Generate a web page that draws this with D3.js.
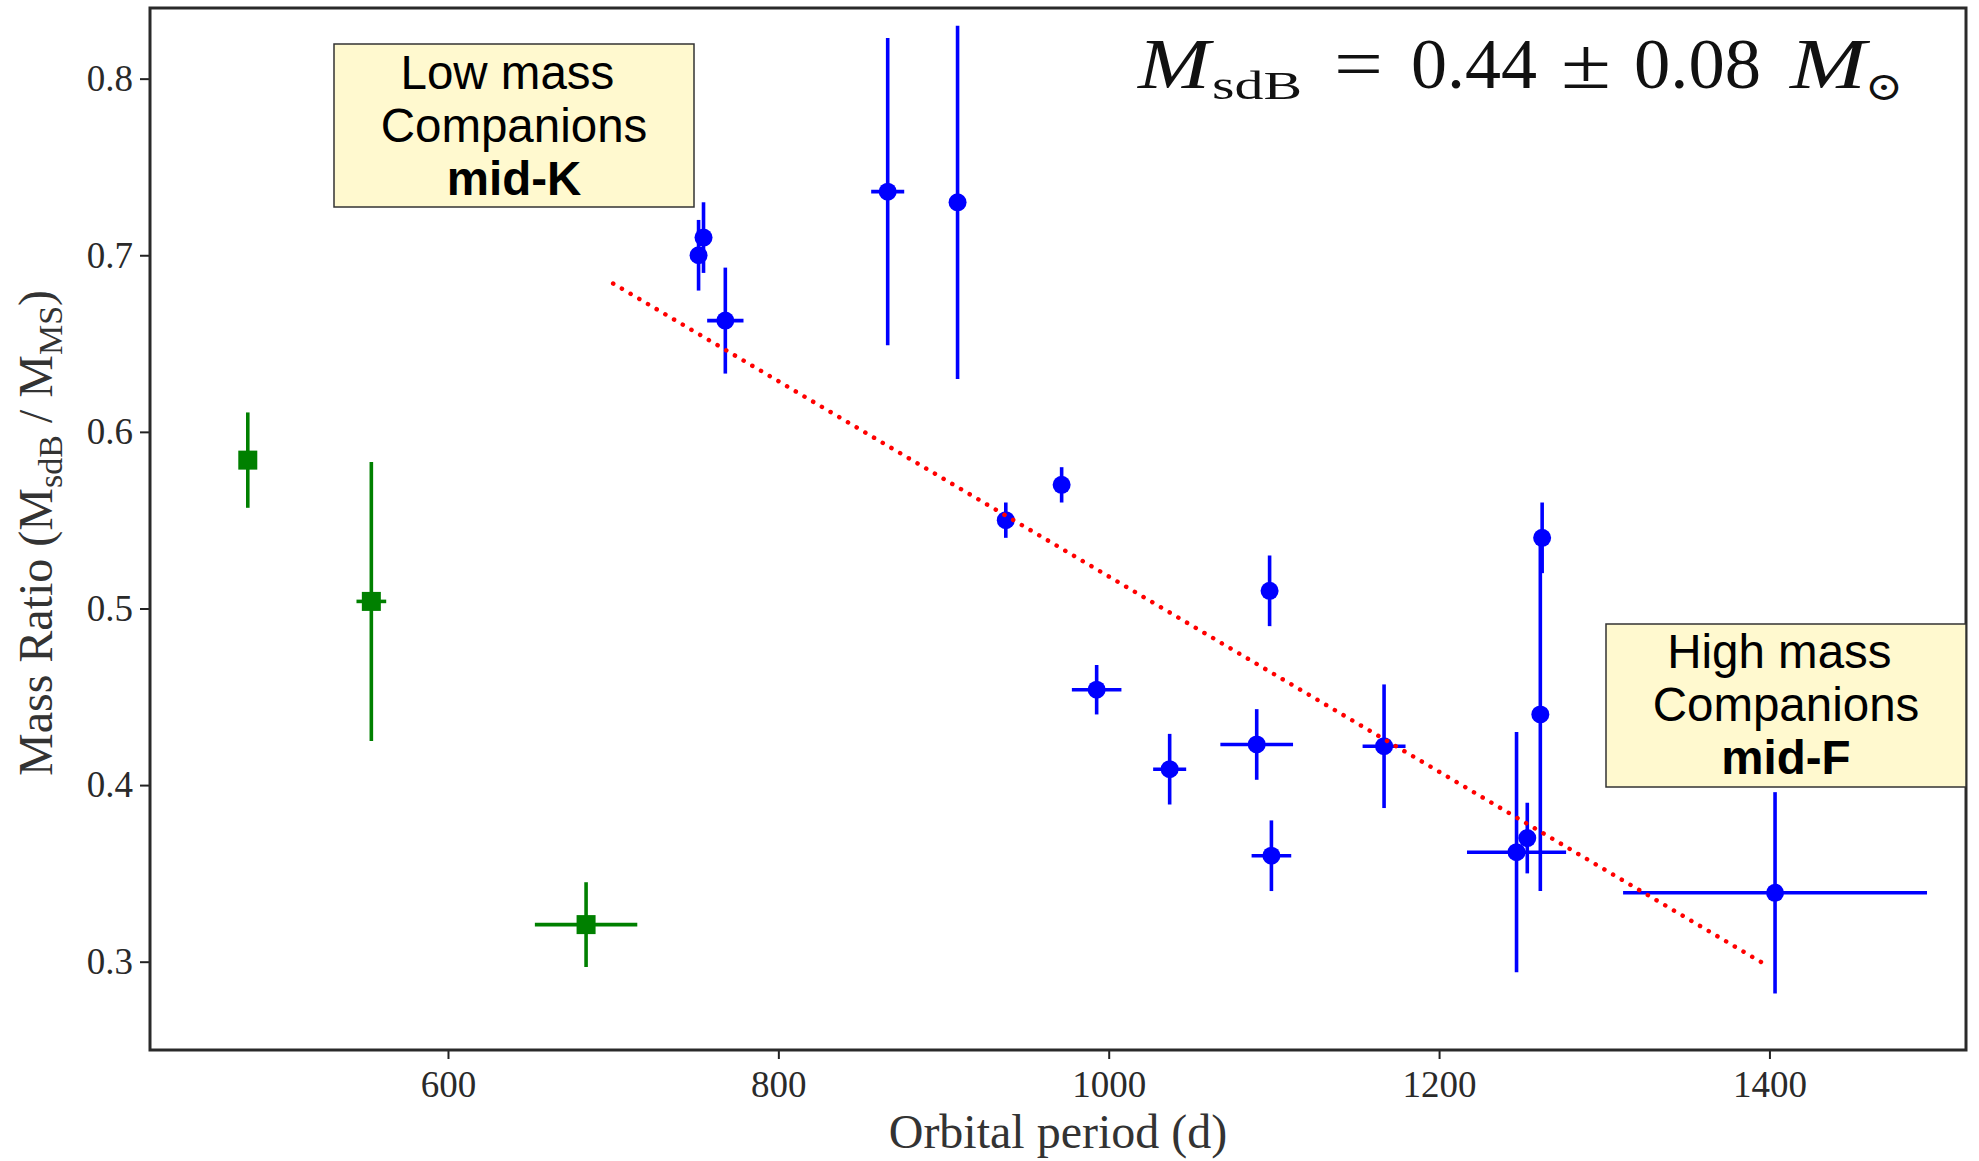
<!DOCTYPE html>
<html>
<head>
<meta charset="utf-8">
<script src="https://cdn.jsdelivr.net/npm/d3@7"></script>
<style>
    body { margin: 0; background: #fff; }
    svg { display: block; }
    text { font-family: "Liberation Serif", "DejaVu Serif", serif; fill: #2a2a2a; }
    .box-text { font-family: "Liberation Sans", Arial, sans-serif; fill: #000; white-space: pre; }
</style>
</head>
<body>
<div id="chart"></div>
<script>
// sdB + MS companions (blue circles)
const bluePeriod    = [751.7, 754.7, 767.9, 866.2, 908.5, 937.7, 971.5, 992.7, 1036.9, 1089.6, 1097.4, 1098.5, 1166.7, 1246.9, 1253.4, 1261.3, 1262.4, 1403.4];
const bluePeriodErr = [0, 0, 11, 10, 0, 0, 0, 15, 10, 22, 0, 12, 13, 30, 0, 0, 0, 92];
const blueRatio     = [0.700, 0.710, 0.663, 0.736, 0.730, 0.550, 0.570, 0.454, 0.409, 0.423, 0.510, 0.360, 0.422, 0.362, 0.370, 0.440, 0.540, 0.339];
const blueRatioErr  = [0.020, 0.020, 0.030, 0.087, 0.100, 0.010, 0.010, 0.014, 0.020, 0.020, 0.020, 0.020, 0.035, 0.068, 0.020, 0.100, 0.020, 0.057];

// green squares
const greenPeriod    = [478.8, 553.6, 683.6];
const greenPeriodErr = [0, 9, 31];
const greenRatio     = [0.584, 0.504, 0.321];
const greenRatioErr  = [0.027, 0.079, 0.024];

// dotted trend line end points
const fitPeriod = [700, 1400];
const fitRatio  = [0.684, 0.297];

const xTicks = [600, 800, 1000, 1200, 1400];
const yTicks = [0.3, 0.4, 0.5, 0.6, 0.7, 0.8];

const lowBoxLines  = ['Low mass ', 'Companions', 'mid-K'];
const highBoxLines = ['High mass ', 'Companions', 'mid-F'];

const margin = { top: 8, right: 13, bottom: 111, left: 150 };
const width = 1979 - margin.left - margin.right;
const height = 1161 - margin.top - margin.bottom;

const root = d3.select('#chart')
    .append('svg')
    .attr('width', 1979)
    .attr('height', 1161);

const svg = root.append('g')
    .attr('transform', `translate(${margin.left}, ${margin.top})`);

const xScale = d3.scaleLinear()
    .domain([419.6, 1519])
    .range([0, width]);

const yScale = d3.scaleLinear()
    .domain([0.25, 0.84])
    .range([height, 0]);

// axes
const xAxis = svg.append('g')
    .attr('transform', `translate(0, ${height})`)
    .call(d3.axisBottom(xScale).tickValues(xTicks).tickSize(9).tickPadding(12).tickFormat(d3.format('d')));

const yAxis = svg.append('g')
    .call(d3.axisLeft(yScale).tickValues(yTicks).tickSize(10).tickPadding(7).tickFormat(d3.format('.1f')));

[xAxis, yAxis].forEach(ax => {
    ax.select('.domain').remove();
    ax.selectAll('.tick line').attr('stroke', '#222').attr('stroke-width', 2);
    ax.selectAll('.tick text')
        .style('font-family', '"Liberation Serif", "DejaVu Serif", serif')
        .style('font-size', '37px')
        .attr('fill', '#333');
});

svg.append('rect')
    .attr('width', width)
    .attr('height', height)
    .attr('fill', 'none')
    .attr('stroke', '#2a2a2a')
    .attr('stroke-width', 3);

// axis labels
svg.append('text')
    .attr('x', width / 2)
    .attr('y', height + 98)
    .attr('text-anchor', 'middle')
    .style('font-size', '48px')
    .style('fill', '#333')
    .text('Orbital period (d)');

const yLabel = root.append('text')
    .attr('transform', 'translate(52, 533) rotate(-90)')
    .attr('text-anchor', 'middle')
    .style('font-size', '48px')
    .style('fill', '#333');
yLabel.append('tspan').text('Mass Ratio (M');
yLabel.append('tspan').attr('dy', 10).style('font-size', '34px').text('sdB');
yLabel.append('tspan').attr('dy', -10).text(' / M');
yLabel.append('tspan').attr('dy', 10).style('font-size', '34px').text('MS');
yLabel.append('tspan').attr('dy', -10).text(')');

// error bars + markers
function drawSeries(period, periodErr, ratio, ratioErr, color, shape) {
    const data = period.map((p, i) => ({ p, pe: periodErr[i], r: ratio[i], re: ratioErr[i] }));
    const g = svg.append('g');

    g.selectAll('.vbar')
        .data(data)
        .enter().append('line')
        .attr('x1', d => xScale(d.p))
        .attr('x2', d => xScale(d.p))
        .attr('y1', d => yScale(d.r - d.re))
        .attr('y2', d => yScale(d.r + d.re))
        .attr('stroke', color)
        .attr('stroke-width', 3.6);

    g.selectAll('.hbar')
        .data(data.filter(d => d.pe > 0))
        .enter().append('line')
        .attr('x1', d => xScale(d.p - d.pe))
        .attr('x2', d => xScale(d.p + d.pe))
        .attr('y1', d => yScale(d.r))
        .attr('y2', d => yScale(d.r))
        .attr('stroke', color)
        .attr('stroke-width', 3.6);

    if (shape === 'square') {
        g.selectAll('.mark')
            .data(data)
            .enter().append('rect')
            .attr('x', d => xScale(d.p) - 9.5)
            .attr('y', d => yScale(d.r) - 9.5)
            .attr('width', 19)
            .attr('height', 19)
            .attr('fill', color);
    } else {
        g.selectAll('.mark')
            .data(data)
            .enter().append('circle')
            .attr('cx', d => xScale(d.p))
            .attr('cy', d => yScale(d.r))
            .attr('r', 9)
            .attr('fill', color);
    }
}

drawSeries(greenPeriod, greenPeriodErr, greenRatio, greenRatioErr, '#008000', 'square');
drawSeries(bluePeriod, bluePeriodErr, blueRatio, blueRatioErr, '#0000ff', 'circle');

// dotted trend
const line = d3.line()
    .x(d => xScale(d[0]))
    .y(d => yScale(d[1]));

svg.append('path')
    .datum(fitPeriod.map((p, i) => [p, fitRatio[i]]))
    .attr('fill', 'none')
    .attr('stroke', '#ff0000')
    .attr('stroke-width', 4.5)
    .attr('stroke-linecap', 'round')
    .attr('stroke-dasharray', '0.1,10')
    .attr('d', line);

// annotation boxes
function drawBox(x0, y0, x1, y1, lines, baseline) {
    root.append('rect')
        .attr('x', x0)
        .attr('y', y0)
        .attr('width', x1 - x0)
        .attr('height', y1 - y0)
        .attr('fill', '#fff9cf')
        .attr('stroke', '#333')
        .attr('stroke-width', 1.5);
    const cx = (x0 + x1) / 2;
    lines.forEach((t, i) => {
        root.append('text')
            .attr('class', 'box-text')
            .attr('x', cx)
            .attr('y', baseline + i * 53)
            .attr('text-anchor', 'middle')
            .style('font-size', '47.5px')
            .style('font-weight', i === 2 ? 'bold' : 'normal')
            .text(t);
    });
}

drawBox(334, 44, 694, 207, lowBoxLines, 89);
drawBox(1606, 624, 1966, 787, highBoxLines, 668);

// mass label
const eq = root.append('text')
    .attr('y', 88)
    .style('font-size', '72px')
    .style('fill', '#111');
eq.append('tspan').attr('x', 1138).style('font-style', 'italic').attr('textLength', 72).attr('lengthAdjust', 'spacingAndGlyphs').text('M');
eq.append('tspan').attr('x', 1212).attr('y', 99).style('font-size', '40px').attr('textLength', 90).attr('lengthAdjust', 'spacingAndGlyphs').text('sdB');
eq.append('tspan').attr('x', 1334).attr('y', 88).attr('textLength', 49).attr('lengthAdjust', 'spacingAndGlyphs').text('=');
eq.append('tspan').attr('x', 1411).attr('textLength', 126).attr('lengthAdjust', 'spacingAndGlyphs').text('0.44');
eq.append('tspan').attr('x', 1561).attr('textLength', 50).attr('lengthAdjust', 'spacingAndGlyphs').text('±');
eq.append('tspan').attr('x', 1634).attr('textLength', 127).attr('lengthAdjust', 'spacingAndGlyphs').text('0.08');
eq.append('tspan').attr('x', 1790).style('font-style', 'italic').attr('textLength', 76).attr('lengthAdjust', 'spacingAndGlyphs').text('M');
eq.append('tspan').attr('x', 1865).attr('y', 100).style('font-size', '40px').attr('textLength', 38).attr('lengthAdjust', 'spacingAndGlyphs').text('⊙');
</script>
</body>
</html>
